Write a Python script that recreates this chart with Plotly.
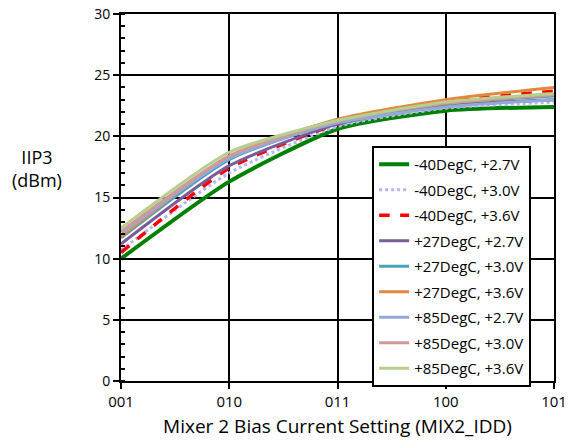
import plotly.graph_objects as go

x_labels = ["001", "010", "011", "100", "101"]
x_pos = [0, 1, 2, 3, 4]

series_names = ["-40DegC, +2.7V", "-40DegC, +3.0V", "-40DegC, +3.6V",
                "+27DegC, +2.7V", "+27DegC, +3.0V", "+27DegC, +3.6V",
                "+85DegC, +2.7V", "+85DegC, +3.0V", "+85DegC, +3.6V"]
v_m40_27 = [10.0, 16.3, 20.6, 22.1, 22.4]
v_m40_30 = [10.7, 17.0, 20.8, 22.3, 22.8]
v_m40_36 = [10.5, 17.4, 21.0, 22.8, 23.7]
v_27_27 = [11.2, 17.6, 21.0, 22.5, 23.0]
v_27_30 = [11.7, 18.1, 21.2, 22.7, 23.3]
v_27_36 = [11.8, 18.3, 21.4, 23.0, 24.0]
v_85_27 = [12.0, 18.2, 21.1, 22.4, 23.0]
v_85_30 = [12.2, 18.4, 21.3, 22.7, 23.4]
v_85_36 = [12.5, 18.7, 21.3, 22.8, 23.5]
all_values = [v_m40_27, v_m40_30, v_m40_36, v_27_27, v_27_30, v_27_36, v_85_27, v_85_30, v_85_36]

colors = ["#008000", "#b4b4f5", "#ff0000", "#7a5c99", "#4aa0b8", "#e5873c",
          "#94a9d6", "#d49894", "#b5cf8c"]
dashes = ["solid", "dot", "dash", "solid", "solid", "solid", "solid", "solid", "solid"]
widths = [4, 3, 3.5, 3, 3, 3, 3, 3, 3]

font_family = "Open Sans, Arial, sans-serif"

fig = go.Figure()
for i in range(len(series_names)):
    fig.add_trace(go.Scatter(
        x=x_pos, y=all_values[i], mode="lines", name=series_names[i],
        legendgroup=str(i),
        line=dict(color=colors[i], width=widths[i], dash=dashes[i],
                  shape="spline", smoothing=0.6),
    ))

fig.update_layout(
    width=573, height=446,
    margin=dict(l=121, r=19, t=14, b=65),
    paper_bgcolor="white", plot_bgcolor="white",
    font=dict(family=font_family, size=14, color="black"),
    showlegend=True,
    legend=dict(x=0.58, y=0.64, xanchor="left", yanchor="top",
                bgcolor="white", bordercolor="black", borderwidth=2,
                font=dict(size=15, color="black"), tracegroupgap=3,
                traceorder="grouped"),
    xaxis=dict(range=[0, 4], tickvals=x_pos, ticktext=x_labels,
               automargin=False, tickfont=dict(size=15),
               showgrid=True, gridcolor="black", gridwidth=1.5,
               showline=True, linecolor="black", linewidth=2, mirror=True,
               ticks="outside", ticklen=6, tickwidth=2, tickcolor="black",
               zeroline=False,
               title=dict(text="Mixer 2 Bias Current Setting (MIX2_IDD)",
                          font=dict(size=19), standoff=10)),
    yaxis=dict(range=[0, 30], dtick=5, tick0=0, automargin=False,
               showgrid=True, gridcolor="black", gridwidth=1.5,
               showline=True, linecolor="black", linewidth=2, mirror=True,
               ticks="outside", ticklen=6, tickwidth=2, tickcolor="black",
               minor=dict(dtick=1, ticks="inside", ticklen=4, tickwidth=1.5,
                          tickcolor="black", showgrid=False),
               zeroline=False),
    annotations=[dict(text="IIP3<br>(dBm)", xref="paper", yref="paper",
                      x=-0.194, y=0.58, xanchor="center", yanchor="middle",
                      showarrow=False, align="center",
                      font=dict(size=18, color="black"))],
)

fig.write_html("out.html", config={"displayModeBar": False})

# remove the default page margin so the figure fills the window exactly
with open("out.html", "r", encoding="utf-8") as f:
    html = f.read()
html = html.replace("<body>", '<body style="margin:0;padding:0;">', 1)
with open("out.html", "w", encoding="utf-8") as f:
    f.write(html)
